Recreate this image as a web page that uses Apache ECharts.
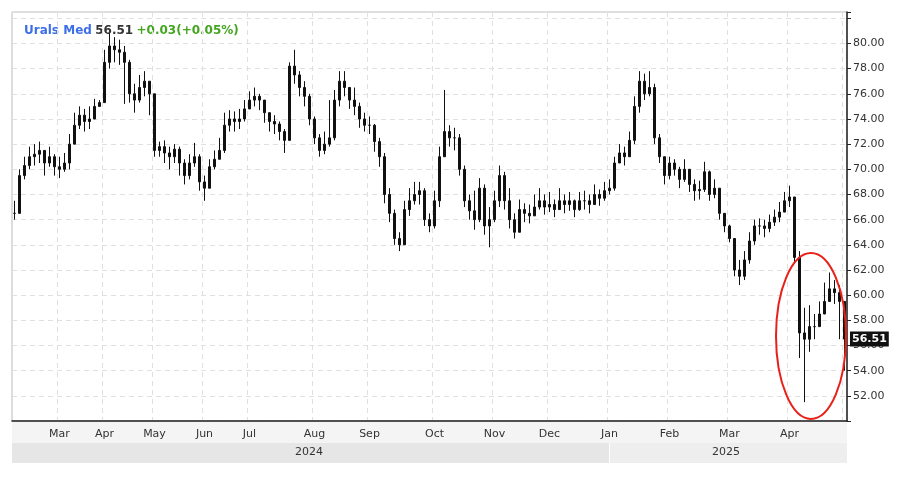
<!DOCTYPE html>
<html>
<head>
<meta charset="utf-8">
<script src="https://cdn.jsdelivr.net/npm/echarts@6/dist/echarts.min.js"></script>
<style>html,body{margin:0;padding:0;background:#fff}#chart{width:900px;height:481px}</style>
</head>
<body>
<div id="chart"></div>
<script>
// 收盘价
const closes = [
  66.5,69.5,70.3,71,71.2,71.5,70.5,71,70.2,70,70.5,72,73.5,74.3,73.8,74,75,75.3,
  78.5,79.8,79.5,79.3,78.5,76,75.5,76.5,77,76,
  71.5,71.8,71.3,71,71.6,70.5,69.5,70.5,71,69,68.5,70.2,70.8,71.5,73.5,74,73.8,74,74.8,75.5,75.8,75.5,74.5,73.8,73.6,73,72.3,
  78.2,77.5,
  76.5,75.8,74,72.5,71.5,72,72.5,75.5,77,76.5,75.5,75,74,73.5,73.5,72.2,71,68,66.5,64.5,64,66.8,67.5,68,68.3,66,65.5,67.5,71,73,
  72.5,72.5,70,67.5,66.7,66,68.5,65.5,66,67.5,69.5,67.5,66,65,66.8,66.5,66.3,67,67.5,67,67.2,66.8,67.5,67.2,67.5,66.8,67.5,67.5,67.2,68,
  67.7,68.3,68.5,70.5,71.3,71,72.3,75,77,76,76.5,72.5,71,69.5,70.5,70,69.2,70,68.8,68.3,68.4,69.8,68,68.5,66.5,65.5,64.5,62,61.5,62.8,
  64.3,65.5,65.5,65.3,65.8,66.2,66.6,67.5,67.8,
  63,57,56.5,57.5,57.5,58.5,59.5,60.5,60.2,59.5,56.51
]
const highs = [
  67.5,70,71,71.8,72,72.2,71.5,71.8,71.2,71,71.3,72.8,74.5,75,74.8,75,75.6,75.5,
  79.5,80.8,80.5,80.3,79.8,78.7,76.8,77.5,77.8,77,
  71.9,72.2,72.3,71.8,72,71.8,70.8,71.2,72.1,71.2,69.5,70.8,71.5,72.5,74.5,74.7,74.6,74.8,75.5,76.2,76.5,76,75.5,74.5,74.3,73.8,73.2,
  78.5,79.5,
  77.8,77,76,74.2,72.8,73,75.5,76.3,77.8,77.8,76.5,76.5,75.3,74.5,74.2,73.6,72.5,71.3,68.5,66.8,65,67.5,68.5,69,69,68.5,66.5,68.3,71.8,76.3,
  73.5,73.3,72.8,70.3,68,68.3,69.3,68.8,67,68.3,70.3,69.8,68.5,66.5,67.6,67.3,67.2,68,68.5,68,68.2,67.6,68.5,68,68.2,67.6,68.2,68.3,68,68.8,
  68.4,69,69.2,71,72,71.8,73,75.8,77.8,77.6,77.8,76.8,72.8,71,71,70.8,70.2,70.8,70,69.2,69.1,70.6,69.9,69.2,67.8,66.3,65.6,64.5,62.8,63.5,
  65,66,66.1,66,66.4,66.8,67.4,68.2,68.7,
  67.8,63.5,59,59.2,58.5,59.5,61,61.8,61.2,60.8,58.5
]
const lows = [
  66,66.5,69.2,70,70.3,70.5,69.5,70.2,69.5,69.3,69.8,70,72,73.2,73,73.2,74,75,
  75.4,78,78.5,78.3,75.2,75.3,74.5,75.3,75.8,74.3,
  71,71,70.5,70,70.5,69.5,68.8,69.2,70.2,68.3,67.5,68.5,70,70.8,71.3,73,73,73.2,73.8,74.8,75,74.7,73.7,73,72.8,72.3,71.3,
  77.8,76.8,
  75.8,75,73.5,72,71,71.2,71.8,72.3,75,75.8,74.8,74.3,73.3,73,72.8,71.4,70.2,67.3,65.8,64,63.5,64,66.3,67.2,67.2,65.5,65,65.3,67,71.5,
  71.8,71.5,69.5,67,66,65.2,65.8,64.8,63.8,65.8,67,66.8,65.3,64.5,65,65.8,65.7,66.4,66.8,66.4,66.6,66.2,66.8,66.5,66.7,66.2,66.7,66.8,66.5,67.3,
  67.1,67.5,68,68.3,70.5,70.3,71,72,74.5,75.5,75.8,72,70.5,68.8,69.2,69.5,68.5,69,68.2,67.5,67.6,68.2,67.5,67.7,66,65,64.2,61.5,60.8,61.2,
  62.5,64,64.8,64.6,65,65.5,65.8,66.8,67,
  62.5,55,51.5,55.5,56.5,57.5,58.5,59.5,59.3,56.5,54
]
// 月份刻度位置
const monthIdx = [9, 18, 28, 38, 47, 60, 71, 84, 96, 107, 119, 131, 143, 155, 166]
const monthNames = ['Mar', 'Apr', 'May', 'Jun', 'Jul', 'Aug', 'Sep', 'Oct', 'Nov', 'Dec', 'Jan', 'Feb', 'Mar', 'Apr', '']
const lastPrice = 56.51

const labels = closes.map(() => '')
monthIdx.forEach((m, k) => { labels[m] = monthNames[k] || ' ' })
const isTick = (i) => monthIdx.indexOf(i) >= 0

const ohlc = closes.map((c, i) => {
  const o = i === 0 ? c : closes[i - 1]
  return [o, c, Math.min(lows[i], o, c), Math.max(highs[i], o, c)]
})

const chart = echarts.init(document.getElementById('chart'))

const option = {
  animation: false,
  grid: { left: 12, right: 53, top: 12, bottom: 60, show: true, borderColor: '#bbb', borderWidth: 1 },
  xAxis: {
    type: 'category',
    data: labels,
    boundaryGap: true,
    axisLine: { lineStyle: { color: '#222', width: 1.5 } },
    axisTick: { interval: isTick, lineStyle: { color: '#222' }, alignWithLabel: true },
    axisLabel: { interval: isTick, color: '#333', fontSize: 11, fontFamily: 'DejaVu Sans', margin: 8 },
    splitLine: { show: true, interval: isTick, lineStyle: { color: '#e0e0e0', type: [5, 4] } }
  },
  yAxis: {
    type: 'value',
    position: 'right',
    min: 50,
    max: 82.5,
    interval: 2,
    axisLine: { show: true, lineStyle: { color: '#222', width: 1.5 } },
    axisTick: { show: true, length: 4, lineStyle: { color: '#222' } },
    axisLabel: {
      color: '#333', fontSize: 11, fontFamily: 'DejaVu Sans', margin: 6,
      formatter: v => (v < 52 || v > 80) ? '' : v.toFixed(2)
    },
    splitLine: { lineStyle: { color: '#e0e0e0', type: [5, 4] } }
  },
  series: [
    {
      type: 'candlestick',
      data: ohlc,
      barWidth: 2,
      itemStyle: { color: '#111', color0: '#111', borderColor: '#111', borderColor0: '#111', borderWidth: 1 },
      markLine: {
        silent: true,
        symbol: 'none',
        data: [{ yAxis: lastPrice }],
        lineStyle: { color: 'rgba(0,0,0,0)', width: 1, type: 'solid' },
        label: {
          show: true,
          position: 'end', formatter: lastPrice.toFixed(2), color: '#fff', backgroundColor: '#111',
          fontSize: 11, fontWeight: 'bold', fontFamily: 'DejaVu Sans', padding: [2, 2], distance: 3
        }
      }
    }
  ],
  graphic: [
    { type: 'rect', shape: { x: 12, y: 443, width: 597, height: 20 }, style: { fill: '#e6e6e6' }, silent: true },
    { type: 'rect', shape: { x: 610, y: 443, width: 237, height: 20 }, style: { fill: '#eeeeee' }, silent: true },
    { type: 'rect', shape: { x: 12, y: 422, width: 835, height: 21 }, style: { fill: '#f4f4f4' }, z: -1, silent: true },
    { type: 'text', x: 295, y: 447, style: { text: '2024', fill: '#333', font: '11px DejaVu Sans' } },
    { type: 'text', x: 712, y: 447, style: { text: '2025', fill: '#333', font: '11px DejaVu Sans' } },
    {
      type: 'text', x: 24, y: 25,
      style: {
        text: '{a|Urals Med} {b|56.51} {c|+0.03(+0.05%)}',
        rich: {
          a: { fill: '#3d6fe8', font: 'bold 12px DejaVu Sans' },
          b: { fill: '#333', font: 'bold 12px DejaVu Sans' },
          c: { fill: '#44a520', font: 'bold 12px DejaVu Sans' }
        }
      }
    },
    {
      type: 'ellipse', shape: { cx: 811, cy: 336, rx: 35, ry: 83 },
      style: { fill: 'none', stroke: '#e8201a', lineWidth: 2 }, z: 100
    }
  ]
}

chart.setOption(option)
</script>
</body>
</html>
